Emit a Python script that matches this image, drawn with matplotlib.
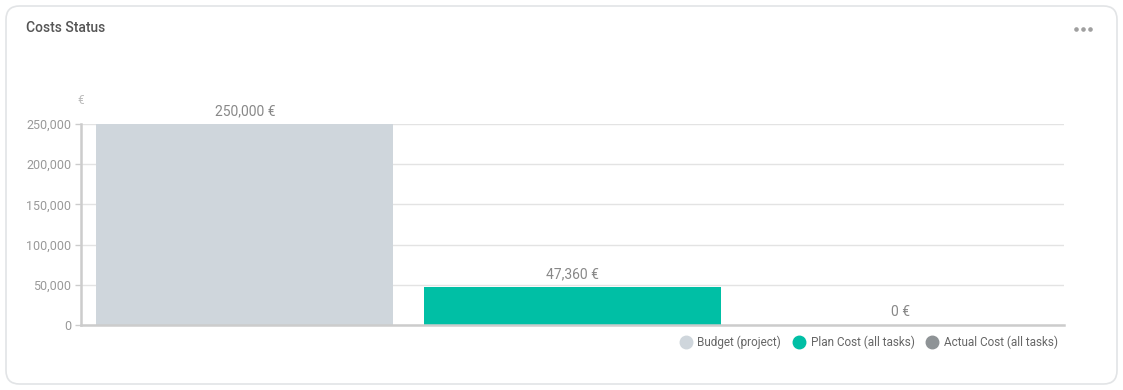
import matplotlib.pyplot as plt
from matplotlib.patches import FancyBboxPatch
from matplotlib.ticker import FuncFormatter

plt.rcParams['font.family'] = ['Roboto', 'DejaVu Sans']

# Datos
series = ['Budget (project)', 'Plan Cost (all tasks)', 'Actual Cost (all tasks)']
valores = [250000, 47360, 0]
colores = ['#cfd6dc', '#00bfa5', '#8e9396']
yticks = [0, 50000, 100000, 150000, 200000, 250000]

W, H = 1123, 390
fig = plt.figure(figsize=(W / 100, H / 100), dpi=100)
fig.patch.set_facecolor('white')

# Tarjeta
card = FancyBboxPatch((6 / W, 6 / H), 1111 / W, 378 / H,
                      boxstyle='round,pad=0,rounding_size=0.012',
                      transform=fig.transFigure, facecolor='white',
                      edgecolor='#e2e4e6', linewidth=1.2, mutation_aspect=W / H,
                      zorder=-5)
fig.patches.append(card)

fig.text(26 / W, 1 - 28 / H, 'Costs Status', fontsize=10, fontweight='medium',
         color='#555555', va='center', ha='left')
# menu de tres puntos
for dx in (-7, 0, 7):
    fig.add_artist(plt.Line2D([(1083 + dx) / W], [1 - 29 / H], marker='o',
                              markersize=2.3, color='#a0a0a0', linestyle='',
                              transform=fig.transFigure))

ax = fig.add_axes([81 / W, 1 - 325 / H, 983 / W, 201 / H], zorder=2)
ax.set_facecolor('none')
x = range(len(valores))
barras = ax.bar(x, valores, width=0.906, color=colores, zorder=2)
ax.set_xlim(-0.5, 2.5)
ax.set_ylim(0, 250000)
ax.set_yticks(yticks)
ax.yaxis.set_major_formatter(FuncFormatter(lambda v, p: f'{int(v):,}'))
ax.set_xticks([])
ax.grid(axis='y', color='#e3e3e3', linewidth=1, zorder=0)
ax.tick_params(axis='y', colors='#cccccc', labelcolor='#999999', labelsize=9,
               length=4, width=1, pad=3)
for s in ['top', 'right']:
    ax.spines[s].set_visible(False)
for s in ['left', 'bottom']:
    ax.spines[s].set_color('#cccccc')
    ax.spines[s].set_linewidth(1.8)

for i, v in enumerate(valores):
    ax.annotate(f'{v:,} €', (i, v), xytext=(0, 4), textcoords='offset points',
                ha='center', va='bottom', fontsize=10, color='#888888',
                annotation_clip=False)

fig.text(81 / W, 1 - 101 / H, '€', fontsize=8.5, color='#bbbbbb',
         ha='center', va='center')

# Leyenda
handles = [plt.Line2D([], [], marker='o', linestyle='', markersize=9,
                      markerfacecolor=c, markeredgecolor=c) for c in colores]
ax.legend(handles, series, loc='upper right', bbox_to_anchor=(0.994, -0.055),
          ncol=3, frameon=False, fontsize=8.5, labelcolor='#666666',
          handletextpad=0.4, columnspacing=0.9, handlelength=1.2,
          borderaxespad=0, borderpad=0)

plt.savefig('out.png', dpi=100)
